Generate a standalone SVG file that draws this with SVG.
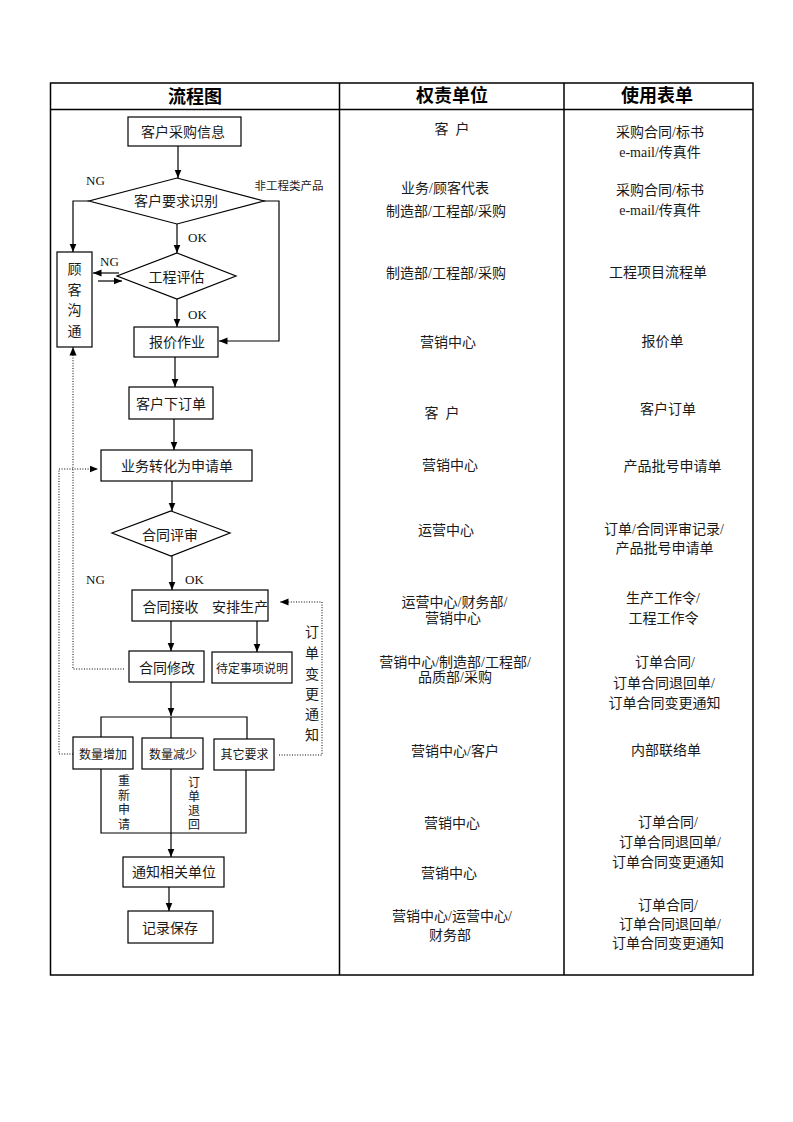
<svg xmlns="http://www.w3.org/2000/svg" width="793" height="1122" viewBox="0 0 793 1122">
<style>
.t{font-family:"Liberation Serif","Noto Sans CJK SC",serif;font-size:14px;fill:#1a1a1a;text-anchor:middle}
.s{font-size:12px}
.xs{font-size:11.5px}
.l{font-family:"Liberation Serif",serif;font-size:13px;fill:#111}
.h{font-family:"Noto Sans CJK SC",sans-serif;font-size:18px;font-weight:bold;fill:#000;text-anchor:middle}
.b{fill:#fff;stroke:#000;stroke-width:1.2}
.c{fill:none;stroke:#000;stroke-width:1.2}
.d{fill:none;stroke:#000;stroke-width:1;stroke-dasharray:1 1.6}
.g{fill:none;stroke:#000;stroke-width:1.5}
</style>
<defs>
<marker id="a" markerUnits="userSpaceOnUse" markerWidth="9" markerHeight="8" refX="8.5" refY="4" orient="auto"><path d="M0,0.5 L8.5,4 L0,7.5 z" fill="#000"/></marker>
</defs>
<rect width="793" height="1122" fill="#fff"/>
<g id="table">
<rect class="g" x="50.5" y="83" width="702.5" height="892"/>
<line class="g" x1="50.5" y1="109.5" x2="753" y2="109.5"/>
<line class="g" x1="339.5" y1="83" x2="339.5" y2="975"/>
<line class="g" x1="564" y1="83" x2="564" y2="975"/>
<text class="h" x="195" y="103">流程图</text>
<text class="h" x="452" y="102">权责单位</text>
<text class="h" x="657" y="102">使用表单</text>
</g>
<g id="connectors">
<line class="c" x1="178" y1="146" x2="178" y2="178" marker-end="url(#a)"/>
<polyline class="c" points="89,201 73,201 73,252" marker-end="url(#a)"/>
<line class="c" x1="177" y1="224" x2="177" y2="253" marker-end="url(#a)"/>
<polyline class="c" points="263,201 279,201 279,341 219,341" marker-end="url(#a)"/>
<line class="c" x1="119" y1="273" x2="93" y2="273" marker-end="url(#a)"/>
<line class="c" x1="98" y1="281" x2="122" y2="281" marker-end="url(#a)"/>
<line class="c" x1="177" y1="299" x2="177" y2="327" marker-end="url(#a)"/>
<line class="c" x1="175" y1="357" x2="175" y2="387" marker-end="url(#a)"/>
<line class="c" x1="174" y1="419" x2="174" y2="450" marker-end="url(#a)"/>
<line class="c" x1="172" y1="481" x2="172" y2="511" marker-end="url(#a)"/>
<line class="c" x1="172" y1="556" x2="172" y2="590" marker-end="url(#a)"/>
<line class="c" x1="171" y1="621" x2="171" y2="651" marker-end="url(#a)"/>
<line class="c" x1="257" y1="621" x2="257" y2="652" marker-end="url(#a)"/>
<line class="c" x1="171" y1="682" x2="171" y2="716" marker-end="url(#a)"/>
<polyline class="c" points="101,737 101,717 247,717 247,739"/>
<line class="c" x1="171" y1="717" x2="171" y2="738"/>
<polyline class="c" points="101,769 101,833 246,833 246,770"/>
<line class="c" x1="171" y1="769" x2="171" y2="857" marker-end="url(#a)"/>
<line class="c" x1="169" y1="887" x2="169" y2="911" marker-end="url(#a)"/>
<polyline class="d" points="124,669 73,669 73,347" marker-end="url(#a)"/>
<polyline class="d" points="73,754 59,754 59,469 98,469" marker-end="url(#a)"/>
<polyline class="d" points="279,755 322,755 322,602 280,602" marker-end="url(#a)"/>
<text class="l" x="86" y="184.5">NG</text>
<text class="t xs" x="289" y="190">非工程类产品</text>
<text class="l" x="188" y="241.5">OK</text>
<text class="l" x="100" y="265.5">NG</text>
<text class="l" x="188" y="318.5">OK</text>
<text class="l" x="86" y="583.5">NG</text>
<text class="l" x="185" y="583.5">OK</text>
<text class="t"><tspan x="312" y="637">订</tspan><tspan x="312" y="658">单</tspan><tspan x="312" y="679">变</tspan><tspan x="312" y="699">更</tspan><tspan x="312" y="719">通</tspan><tspan x="312" y="740">知</tspan></text>
<text class="t s"><tspan x="124" y="785">重</tspan><tspan x="124" y="800">新</tspan><tspan x="124" y="814">申</tspan><tspan x="124" y="828.5">请</tspan></text>
<text class="t s"><tspan x="194" y="787">订</tspan><tspan x="194" y="801">单</tspan><tspan x="194" y="815">退</tspan><tspan x="194" y="828.5">回</tspan></text>
</g>
<g id="n1"><rect class="b" x="128" y="117" width="113" height="29"/><text class="t" x="183" y="137">客户采购信息</text></g>
<g id="n2"><polygon class="b" points="177,178 264,201 177,224 89,201"/><text class="t" x="176" y="206">客户要求识别</text></g>
<g id="n3"><rect class="b" x="57" y="252" width="35" height="95"/><text class="t"><tspan x="74.5" y="274">顾</tspan><tspan x="74.5" y="295">客</tspan><tspan x="74.5" y="315">沟</tspan><tspan x="74.5" y="336">通</tspan></text></g>
<g id="n4"><polygon class="b" points="177,253 236,276 177,299 117,276"/><text class="t" x="176.5" y="282">工程评估</text></g>
<g id="n5"><rect class="b" x="134" y="327" width="84" height="30"/><text class="t" x="177" y="347">报价作业</text></g>
<g id="n6"><rect class="b" x="129" y="387" width="84" height="32"/><text class="t" x="171" y="409">客户下订单</text></g>
<g id="n7"><rect class="b" x="101" y="450" width="151" height="31"/><text class="t" x="177" y="471">业务转化为申请单</text></g>
<g id="n8"><polygon class="b" points="171,511 230,533 171,556 112,533"/><text class="t" x="170" y="540">合同评审</text></g>
<g id="n9"><rect class="b" x="132" y="590" width="136" height="31"/><text class="t"><tspan x="170.5" y="611.5">合同接收</tspan><tspan x="240" y="611.5">安排生产</tspan></text></g>
<g id="n10"><rect class="b" x="129" y="651" width="75" height="31"/><text class="t" x="167" y="673">合同修改</text></g>
<g id="n11"><rect class="b" x="212" y="652" width="80" height="31"/><text class="t s" x="252" y="672.5">待定事项说明</text></g>
<g id="n12"><rect class="b" x="73" y="737" width="60" height="32"/><text class="t s" x="103" y="758.5">数量增加</text></g>
<g id="n13"><rect class="b" x="142" y="738" width="61" height="31"/><text class="t s" x="173" y="758.5">数量减少</text></g>
<g id="n14"><rect class="b" x="214" y="739" width="60" height="31"/><text class="t s" x="244.5" y="758.5">其它要求</text></g>
<g id="n15"><rect class="b" x="123" y="857" width="101" height="30"/><text class="t" x="174" y="876.5">通知相关单位</text></g>
<g id="n16"><rect class="b" x="128" y="911" width="85" height="32"/><text class="t" x="170" y="933">记录保存</text></g>
<g id="col2">
<text class="t" x="452" y="134">客&#8194;户</text>
<text class="t" x="445" y="193">业务/顾客代表</text>
<text class="t" x="446" y="216">制造部/工程部/采购</text>
<text class="t" x="446" y="278">制造部/工程部/采购</text>
<text class="t" x="448" y="346.5">营销中心</text>
<text class="t" x="442" y="418">客&#8194;户</text>
<text class="t" x="450" y="470">营销中心</text>
<text class="t" x="446" y="535">运营中心</text>
<text class="t" x="454.5" y="607">运营中心/财务部/</text>
<text class="t" x="453" y="623">营销中心</text>
<text class="t" x="455" y="667">营销中心/制造部/工程部/</text>
<text class="t" x="455" y="682">品质部/采购</text>
<text class="t" x="455" y="756">营销中心/客户</text>
<text class="t" x="452" y="828">营销中心</text>
<text class="t" x="449" y="878">营销中心</text>
<text class="t" x="452" y="921">营销中心/运营中心/</text>
<text class="t" x="450" y="940">财务部</text>
</g>
<g id="col3">
<text class="t" x="660" y="136.5">采购合同/标书</text>
<text class="t" x="660" y="156.5">e-mail/传真件</text>
<text class="t" x="660" y="195">采购合同/标书</text>
<text class="t" x="660" y="215">e-mail/传真件</text>
<text class="t" x="658" y="276.5">工程项目流程单</text>
<text class="t" x="662.5" y="345.5">报价单</text>
<text class="t" x="668" y="414">客户订单</text>
<text class="t" x="672.5" y="471">产品批号申请单</text>
<text class="t" x="664" y="534">订单/合同评审记录/</text>
<text class="t" x="664.5" y="553">产品批号申请单</text>
<text class="t" x="663" y="603">生产工作令/</text>
<text class="t" x="663.5" y="623">工程工作令</text>
<text class="t" x="665" y="667">订单合同/</text>
<text class="t" x="664" y="688">订单合同退回单/</text>
<text class="t" x="664.5" y="708">订单合同变更通知</text>
<text class="t" x="666" y="755">内部联络单</text>
<text class="t" x="668" y="827">订单合同/</text>
<text class="t" x="670" y="847">订单合同退回单/</text>
<text class="t" x="668" y="867">订单合同变更通知</text>
<text class="t" x="668" y="910">订单合同/</text>
<text class="t" x="670" y="929">订单合同退回单/</text>
<text class="t" x="668" y="948">订单合同变更通知</text>
</g>
</svg>
